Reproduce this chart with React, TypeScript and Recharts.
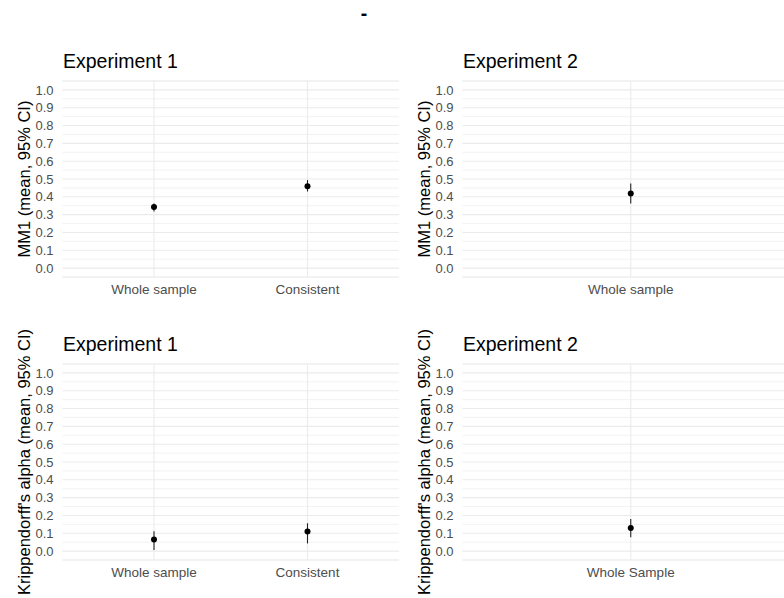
import React from "react";
import { CartesianGrid, ComposedChart, ErrorBar, Line, ReferenceLine, XAxis, YAxis } from "recharts";

// categories
const exp1Groups = ["Whole sample", "Consistent"];
const exp2Groups = ["Whole sample"];
const exp2AlphaGroups = ["Whole Sample"];

// MM1 (mean, 95% CI)
const mm1Exp1Mean = [0.343, 0.46];
const mm1Exp1Low = [0.318, 0.43];
const mm1Exp1High = [0.362, 0.494];
const mm1Exp2Mean = [0.419];
const mm1Exp2Low = [0.362];
const mm1Exp2High = [0.475];

// Krippendorff's alpha (mean, 95% CI)
const alphaExp1Mean = [0.065, 0.11];
const alphaExp1Low = [0.006, 0.043];
const alphaExp1High = [0.112, 0.156];
const alphaExp2Mean = [0.129];
const alphaExp2Low = [0.077];
const alphaExp2High = [0.18];

const majorTicks = [0, 0.1, 0.2, 0.3, 0.4, 0.5, 0.6, 0.7, 0.8, 0.9, 1.0];
const minorTicks = [-0.05, 0.05, 0.15, 0.25, 0.35, 0.45, 0.55, 0.65, 0.75, 0.85, 0.95, 1.05];

const FONT = '"Liberation Sans", Arial, sans-serif';

function Panel({
  groups,
  means,
  lows,
  highs,
  yLabel,
  left,
  top,
  height,
}: {
  groups: string[];
  means: number[];
  lows: number[];
  highs: number[];
  yLabel: string;
  left: number;
  top: number;
  height: number;
}) {
  const rows = groups.map((g, i) => ({
    group: g,
    mean: means[i],
    err: [means[i] - lows[i], highs[i] - means[i]],
  }));

  return (
    <div style={{ position: "absolute", left, top }}>
      <ComposedChart width={400} height={height} data={rows}
        margin={{ top: 81, right: 1, bottom: height - 300, left: 0 }}>
        <CartesianGrid horizontalValues={minorTicks} vertical={false} stroke="#efefef" strokeWidth={0.8} />
        <CartesianGrid vertical={false} stroke="#ebebeb" strokeWidth={1.1} />
        <XAxis
          dataKey="group"
          type="category"
          scale="point"
          height={23}
          interval={0}
          tickSize={0}
          tickLine={false}
          axisLine={false}
          tickMargin={7}
          padding={{ left: 91.5, right: 91.5 }}
          tick={{ fill: "#4d4d4d", fontSize: 13.5 }}
        />
        <YAxis
          type="number"
          domain={[-0.05, 1.05]}
          ticks={majorTicks}
          interval={0}
          width={62.5}
          tickSize={0}
          tickLine={false}
          axisLine={false}
          tickMargin={9}
          tickFormatter={(v: number) => v.toFixed(1)}
          tick={{ fill: "#4d4d4d", fontSize: 13 }}
          label={{
            value: yLabel,
            angle: -90,
            position: "insideLeft",
            offset: 24.5,
            style: { textAnchor: "middle", fill: "#000", fontSize: 16.5 },
          }}
        />
        {groups.map((g) => (
          <ReferenceLine key={g} x={g} stroke="#ebebeb" strokeWidth={1.1} />
        ))}
        <Line
          dataKey="mean"
          stroke="none"
          dot={{ r: 3, fill: "#000", stroke: "none" }}
          activeDot={false}
          isAnimationActive={false}
        >
          <ErrorBar dataKey="err" direction="y" width={0} stroke="#222" strokeWidth={1.1} />
        </Line>
      </ComposedChart>
    </div>
  );
}

export default function App() {
  return (
    <div
      style={{
        position: "fixed",
        left: 0,
        top: 0,
        width: 784,
        height: 598,
        overflow: "hidden",
        background: "#fff",
        fontFamily: FONT,
      }}
    >
      <Panel groups={exp1Groups} means={mm1Exp1Mean} lows={mm1Exp1Low} highs={mm1Exp1High}
        yLabel="MM1 (mean, 95% CI)" left={0} top={0} height={300} />
      <Panel groups={exp2Groups} means={mm1Exp2Mean} lows={mm1Exp2Low} highs={mm1Exp2High}
        yLabel="MM1 (mean, 95% CI)" left={400} top={0} height={300} />
      <Panel groups={exp1Groups} means={alphaExp1Mean} lows={alphaExp1Low} highs={alphaExp1High}
        yLabel="Krippendorff's alpha (mean, 95% CI)" left={0} top={283} height={320} />
      <Panel groups={exp2AlphaGroups} means={alphaExp2Mean} lows={alphaExp2Low} highs={alphaExp2High}
        yLabel="Krippendorff's alpha (mean, 95% CI)" left={400} top={283} height={320} />
      <svg width={784} height={598} style={{ position: "absolute", left: 0, top: 0, pointerEvents: "none" }}>
        <text x={364} y={19.5} textAnchor="middle" fontSize={19.5} fontWeight="bold" fill="#000">-</text>
        <text x={63} y={68} fontSize={19.5} fill="#000">Experiment 1</text>
        <text x={463} y={68} fontSize={19.5} fill="#000">Experiment 2</text>
        <text x={63} y={351} fontSize={19.5} fill="#000">Experiment 1</text>
        <text x={463} y={351} fontSize={19.5} fill="#000">Experiment 2</text>
      </svg>
    </div>
  );
}
